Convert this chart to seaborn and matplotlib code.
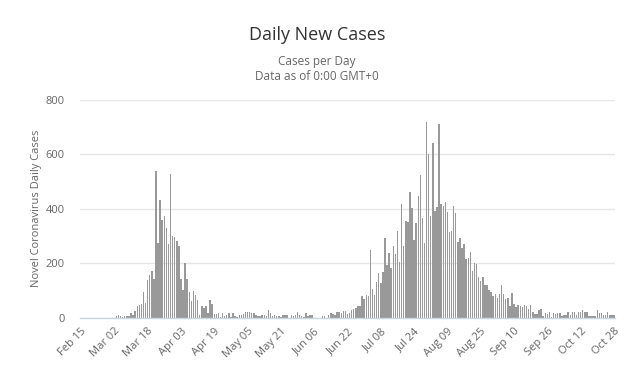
import matplotlib
matplotlib.use("Agg")
import matplotlib.pyplot as plt
import seaborn as sns
import pandas as pd
import numpy as np

# daily new cases, 2020-02-15 .. 2020-10-28
feb = [0] * 15
mar = [0, 0, 5, 11, 5, 2, 6, 4, 7, 17, 10, 25, 41, 45, 48, 95, 53, 137, 157, 172,
       143, 538, 275, 431, 359, 373, 329, 270, 527, 301, 295]
apr = [282, 262, 142, 100, 200, 142, 93, 62, 98, 83, 63, 11, 41, 36, 44, 17, 63, 48,
       14, 14, 15, 2, 15, 7, 10, 17, 1, 15, 6, 2]
may = [11, 11, 14, 22, 22, 22, 17, 15, 10, 6, 4, 10, 10, 5, 26, 16, 6, 11, 6, 5, 2,
       10, 10, 10, 0, 11, 4, 9, 20, 9, 6]
jun = [2, 16, 6, 9, 9, 0, 0, 0, 0, 4, 4, 0, 10, 16, 12, 10, 20, 20, 15, 23, 23, 14,
       17, 27, 33, 35, 41, 41, 79, 69]
jul = [82, 80, 250, 103, 84, 131, 164, 128, 168, 292, 192, 237, 181, 263, 232, 318,
       204, 417, 263, 356, 352, 462, 404, 284, 347, 448, 523, 367, 275, 720, 600]
aug = [375, 640, 392, 407, 712, 416, 409, 426, 387, 316, 320, 410, 385, 277, 291, 254,
       272, 215, 219, 242, 170, 200, 195, 150, 135, 150, 120, 120, 102, 95, 80]
sep = [85, 73, 86, 121, 85, 68, 70, 44, 90, 50, 40, 46, 41, 38, 46, 42, 31, 45, 22, 12,
       12, 26, 30, 7, 15, 12, 22, 2, 15, 12]
oct_ = [15, 15, 7, 11, 11, 22, 11, 21, 19, 11, 19, 19, 26, 21, 19, 7, 6, 4, 6, 26, 16,
        15, 11, 11, 19, 10, 11, 11]

cases = feb + mar + apr + may + jun + jul + aug + sep + oct_
dates = pd.date_range("2020-02-15", periods=len(cases), freq="D")
date_labels = dates.strftime("%b %d")

y_ticks = [0, 200, 400, 600, 800]
tick_step = 16

df = pd.DataFrame({"date": date_labels, "cases": cases})

# -----------------------------
# plot
# -----------------------------
sns.set_style("white")
plt.rcParams["font.family"] = ["Open Sans", "DejaVu Sans"]

fig = plt.figure(figsize=(6.28, 3.83), dpi=100)
ax = fig.add_axes([80 / 628, 1 - 317.5 / 383, 535 / 628, 217.5 / 383])

sns.barplot(data=df, x="date", y="cases", color="#999999", saturation=1,
            width=0.7, linewidth=0, ax=ax)

ax.set_xlim(-0.5, len(cases) - 0.5)
ax.set_ylim(0, 800)
ax.set_yticks(y_ticks)
ax.set_yticklabels([str(v) for v in y_ticks], fontsize=8, color="#666666")
ax.yaxis.grid(True, color="#e6e6e6", linewidth=1)
ax.set_axisbelow(True)

pos = list(range(0, len(cases), tick_step))
ax.set_xticks(pos)
ax.set_xticklabels([date_labels[i] for i in pos], rotation=45, ha="right",
                   rotation_mode="anchor", fontsize=8, color="#666666")
ax.tick_params(axis="x", length=0, pad=6)
ax.tick_params(axis="y", length=0, pad=11)

for s in ["top", "right", "left"]:
    ax.spines[s].set_visible(False)
ax.spines["bottom"].set_color("#ccd6eb")
ax.spines["bottom"].set_linewidth(1)

ax.set_xlabel("")
ax.set_ylabel("Novel Coronavirus Daily Cases", fontsize=8, color="#666666")
ax.yaxis.set_label_coords(-0.071, 0.5)

fig.text(317 / 628, 1 - 35 / 383, "Daily New Cases", ha="center", va="center",
         fontsize=13, color="#333333")
fig.text(317 / 628, 1 - 61 / 383, "Cases per Day", ha="center", va="center",
         fontsize=8.5, color="#666666")
fig.text(317 / 628, 1 - 76 / 383, "Data as of 0:00 GMT+0", ha="center", va="center",
         fontsize=8.5, color="#666666")

fig.savefig("out.png", dpi=100)
plt.close(fig)
